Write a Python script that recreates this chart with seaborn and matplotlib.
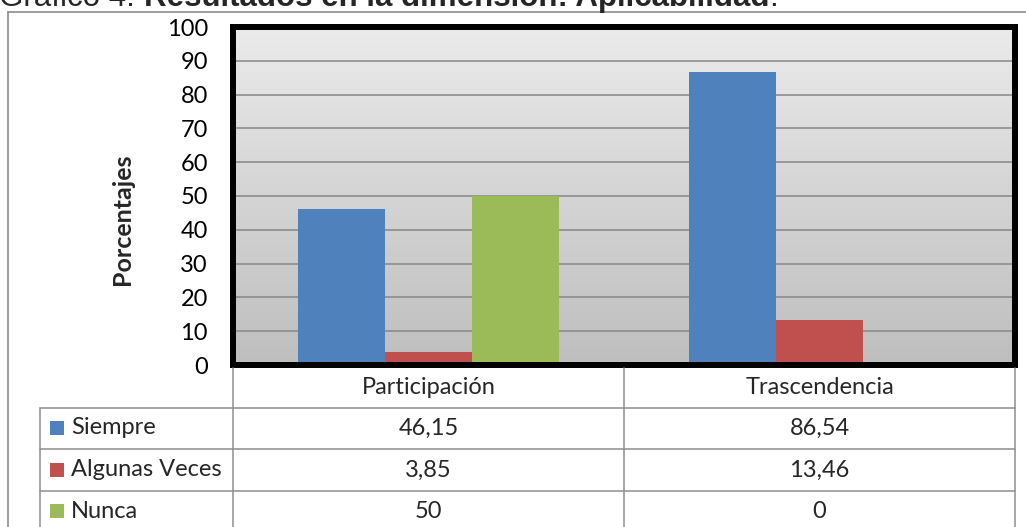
import matplotlib
matplotlib.use("Agg")
import matplotlib.pyplot as plt
import seaborn as sns
import pandas as pd
import numpy as np
from matplotlib.lines import Line2D
from matplotlib.patches import Rectangle
from matplotlib.colors import LinearSegmentedColormap

# data
categories = ["Participación", "Trascendencia"]
series = ["Siempre", "Algunas Veces", "Nunca"]
siempre = [46.15, 86.54]
algunas_veces = [3.85, 13.46]
nunca = [50, 0]
colors = ["#4F81BD", "#C0504D", "#9BBB59"]

W, H = 1026, 527


def fx(px):
    return px / W


def fy(py):
    return 1 - py / H


def fmt(v):
    return f"{v:g}".replace(".", ",")


sns.set_theme(style="white")
plt.rcParams['font.family'] = ['Lato', 'DejaVu Sans']
FS = 17

fig = plt.figure(figsize=(W / 100, H / 100), dpi=100)
fig.patch.set_facecolor("white")

# outer chart frame (only top and left are visible)
fig.add_artist(Line2D([fx(8), 1], [fy(12), fy(12)], color="#8c8c8c", lw=1.2))
fig.add_artist(Line2D([fx(8), fx(8)], [fy(12), 0], color="#8c8c8c", lw=1.2))

# shadow of plot area, behind the axes
fig.add_artist(Rectangle((fx(236), fy(368)), (1015 - 233) / W, (365 - 27) / H,
                         color="#9a9a9a", alpha=0.7, zorder=-1, lw=0))

ax = fig.add_axes([fx(233), fy(365), (1015 - 233) / W, (365 - 27) / H])

df = pd.DataFrame({
    "Categoria": categories * 3,
    "Serie": [s for s in series for _ in categories],
    "Valor": siempre + algunas_veces + nunca,
})
sns.barplot(df, x="Categoria", y="Valor", hue="Serie", hue_order=series,
            palette=colors, width=0.667, saturation=1, ax=ax, legend=False,
            linewidth=0, zorder=2)

ax.set_xlim(-0.5, 1.5)
ax.set_ylim(0, 100)

# gradient background
cmap = LinearSegmentedColormap.from_list("bg", ["#BEBEBE", "#EBEBEB"])
ax.imshow(np.linspace(0, 1, 256)[:, None], extent=(0, 1, 0, 1), origin="lower",
          transform=ax.transAxes, cmap=cmap, aspect="auto", zorder=0)
for v in range(10, 100, 10):
    ax.axhline(v, color="#868686", lw=1.1, zorder=1)

ax.set_yticks(range(0, 101, 10))
ax.set_xticks([])
ax.set_xlabel("")
ax.set_ylabel("")
ax.tick_params(axis="y", length=0, pad=18, labelsize=FS, labelcolor="black")
for sp in ax.spines.values():
    sp.set_visible(True)
    sp.set_color("black")
    sp.set_linewidth(4.3)

fig.text(fx(122), fy(219), "Porcentajes", rotation=90, ha="center", va="center",
         fontsize=18, fontweight="bold")

# data table
gcol = "#8E8E8E"
glw = 1.1
col_edges_px = [ax.transData.transform((x, 0))[0] for x in (-0.5, 0.5, 1.5)]
row_lines = [408, 449, 491]
for y in row_lines:
    fig.add_artist(Line2D([fx(40), fx(col_edges_px[-1])], [fy(y), fy(y)], color=gcol, lw=glw))
fig.add_artist(Line2D([fx(40), fx(40)], [fy(408), 0], color=gcol, lw=glw))
for x in col_edges_px:
    fig.add_artist(Line2D([fx(x), fx(x)], [fy(368), 0], color=gcol, lw=glw))

centers_px = [ax.transData.transform((i, 0))[0] for i in range(len(categories))]
for cx, cat in zip(centers_px, categories):
    fig.text(fx(cx), fy(388), cat, ha="center", va="center", fontsize=FS)

row_centers = [428, 470, 511]
for yc, name, vals, c in zip(row_centers, series, [siempre, algunas_veces, nunca], colors):
    fig.add_artist(Rectangle((fx(50), fy(yc + 7)), 14 / W, 14 / H, color=c, lw=0))
    fig.text(fx(71), fy(yc), name, ha="left", va="center", fontsize=FS)
    for cx, v in zip(centers_px, vals):
        fig.text(fx(cx), fy(yc), fmt(v), ha="center", va="center", fontsize=FS)

# title (cut off at the top of the picture, as in the source)
renderer = fig.canvas.get_renderer()
x0 = -1
pieces = [("Gráfico 4. ", "normal"), ("Resultados en la dimensión: Aplicabilidad", "bold"), (".", "normal")]
for txt, wt in pieces:
    t = fig.text(fx(x0), fy(6), txt, ha="left", va="baseline", fontsize=22.5,
                 fontweight=wt, family=["Liberation Sans", "DejaVu Sans"])
    bb = t.get_window_extent(renderer)
    x0 = bb.x1

fig.savefig("out.png", dpi=100)
